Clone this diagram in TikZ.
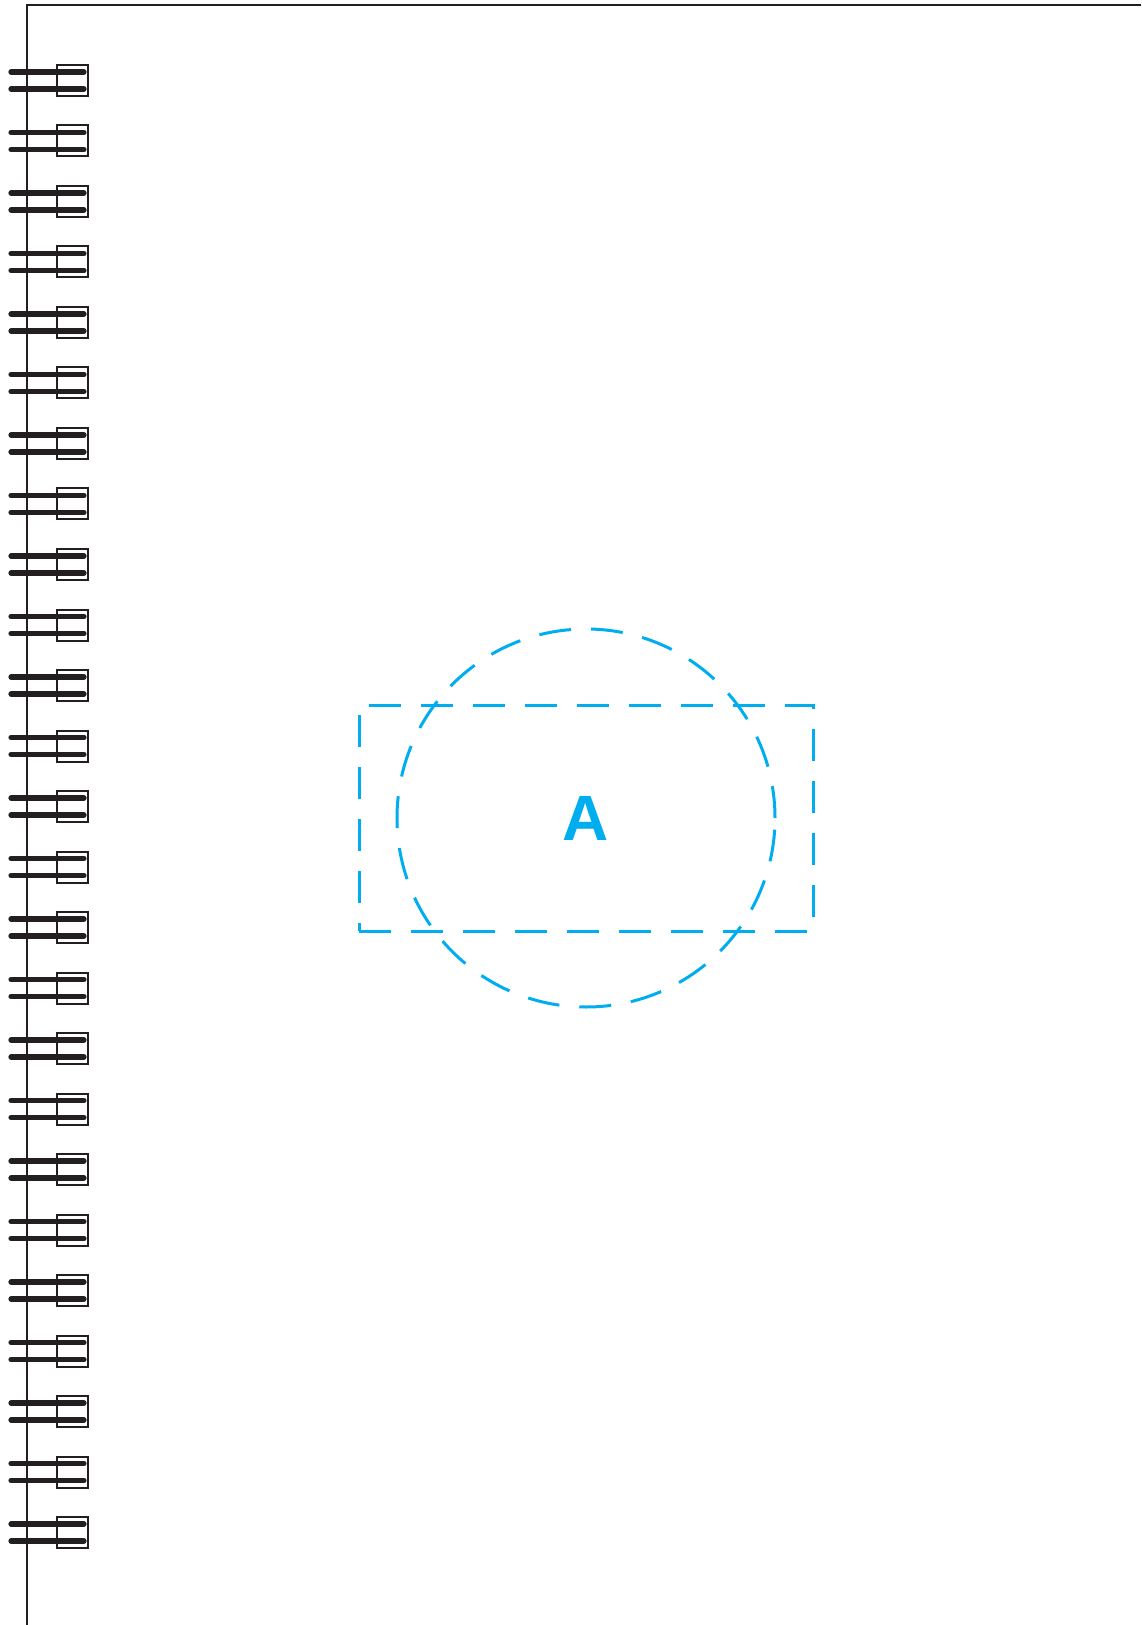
\documentclass[tikz,border=0pt]{standalone}
\usepackage{fontspec}
\setsansfont{Liberation Sans}
\definecolor{markcyan}{RGB}{0,174,239}
\definecolor{inkgray}{RGB}{35,31,32}
\begin{document}
\begin{tikzpicture}[x=0.5pt, y=-0.5pt,
  sheet/.style={draw=inkgray, line width=1pt},
  wire/.style={draw=inkgray, line width=2.6pt, line cap=round},
  eyelet/.style={draw=inkgray, line width=1pt},
  zone/.style={draw=markcyan, line width=1.5pt, dash pattern=on 16pt off 10pt, inner sep=0pt}
]
\useasboundingbox (0,0) rectangle (1141,1625);
\coordinate (topright) at (1141,5);
\coordinate (topleft) at (27,5);
\coordinate (botleft) at (27,1625);
\draw[sheet] (topright) -- (topleft) -- (botleft);
\foreach \i in {0,...,24} {
  \draw[eyelet] (57,{65+60.5*\i}) rectangle (88,{96+60.5*\i});
  \draw[wire] (11,{72+60.5*\i}) -- (84,{72+60.5*\i});
  \draw[wire] (11,{89+60.5*\i}) -- (84,{89+60.5*\i});
}
\node[zone, rectangle, minimum width=227pt, minimum height=113pt] (area) at (586,818) {};
\node[zone, circle, minimum size=189pt] (disc) at (586,818) {};
\node[text=markcyan, font=\fontsize{32}{32}\selectfont\sffamily\bfseries] (mark) at (586,818) {A};
\end{tikzpicture}
\end{document}
